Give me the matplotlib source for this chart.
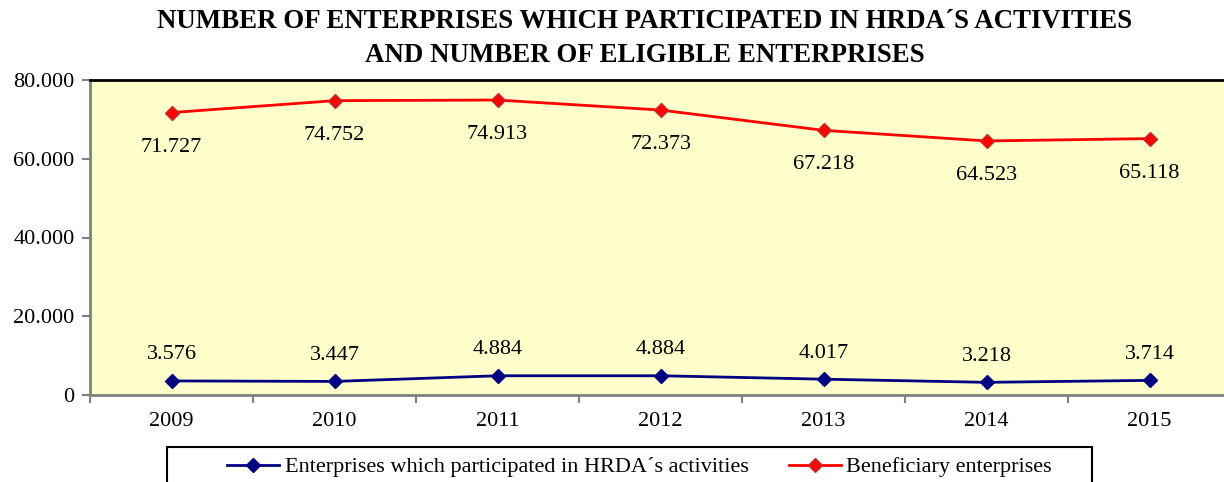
import numpy as np
import matplotlib.pyplot as plt
from matplotlib.patches import Rectangle
from matplotlib.ticker import FuncFormatter, FixedLocator

years = ["2009", "2010", "2011", "2012", "2013", "2014", "2015"]
participated = [3576, 3447, 4884, 4884, 4017, 3218, 3714]
beneficiary = [71727, 74752, 74913, 72373, 67218, 64523, 65118]

plt.rcParams["font.family"] = ["Liberation Serif", "DejaVu Serif"]

W, H = 1224, 482
fig = plt.figure(figsize=(W / 100, H / 100), dpi=100)
# axes extends slightly past the right edge, as in the source image
ax = fig.add_axes([90 / W, 1 - 395 / H, (1231 - 90) / W, (395 - 80) / H])
ax.set_facecolor("#FFFFCC")

x = np.arange(len(years))
l1, = ax.plot(x, participated, color="#000080", lw=2, marker="D", ms=7,
              mfc="#000080", mec="#000080", label="Enterprises which participated in HRDA\u00b4s activities")
l2, = ax.plot(x, beneficiary, color="#FF0000", lw=2, marker="D", ms=7,
              mfc="#FF0000", mec="#C03030", label="Beneficiary enterprises")

for xi, v in zip(x, participated):
    ax.annotate(f"{v/1000:.3f}", (xi, v), xytext=(0, 12), textcoords="offset points",
                ha="center", va="bottom", fontsize=16)
for xi, v in zip(x, beneficiary):
    ax.annotate(f"{v/1000:.3f}", (xi, v), xytext=(0, -18), textcoords="offset points",
                ha="center", va="top", fontsize=16)

ax.set_xlim(-0.5, len(years) - 0.5)
ax.set_ylim(0, 80000)
ax.set_yticks(np.arange(0, 80001, 20000))
ax.yaxis.set_major_formatter(FuncFormatter(lambda v, p: "0" if v == 0 else f"{v/1000:.3f}"))
ax.set_xticks(x)
ax.set_xticklabels(years)
ax.xaxis.set_minor_locator(FixedLocator(np.arange(-0.5, len(years), 1.0)))
ax.tick_params(axis="x", which="major", length=0, pad=12, labelsize=16)
ax.tick_params(axis="x", which="minor", length=6, width=1.5, color="#808080", direction="out")
ax.tick_params(axis="y", length=6, width=1.5, color="#808080", direction="out", pad=5, labelsize=16)

for s in ["left", "bottom"]:
    ax.spines[s].set_color("#808080")
    ax.spines[s].set_linewidth(2)
for s in ["top", "right"]:
    ax.spines[s].set_color("black")
    ax.spines[s].set_linewidth(2)

fig.text(645 / W, 1 - 22 / H, "NUMBER OF ENTERPRISES WHICH PARTICIPATED IN HRDA\u00b4S ACTIVITIES",
         ha="center", va="center", fontsize=19.4, fontweight="bold")
fig.text(645 / W, 1 - 55 / H, "AND NUMBER OF ELIGIBLE ENTERPRISES",
         ha="center", va="center", fontsize=19.4, fontweight="bold")

# legend frame drawn by hand: the box is wider than its entries and runs off the bottom
fig.patches.append(Rectangle((167 / W, -0.05), (1092 - 167) / W, 0.05 + (482 - 447) / H,
                             transform=fig.transFigure, fill=False, edgecolor="black", lw=1.5))
fig.legend(handles=[l1, l2], loc="center left", bbox_to_anchor=(227 / W, 1 - 467 / H),
           ncol=2, frameon=False, fontsize=16, handlelength=2.35, handletextpad=0.25,
           columnspacing=1.8, borderpad=0, borderaxespad=0)

fig.savefig("out.png", dpi=100)
